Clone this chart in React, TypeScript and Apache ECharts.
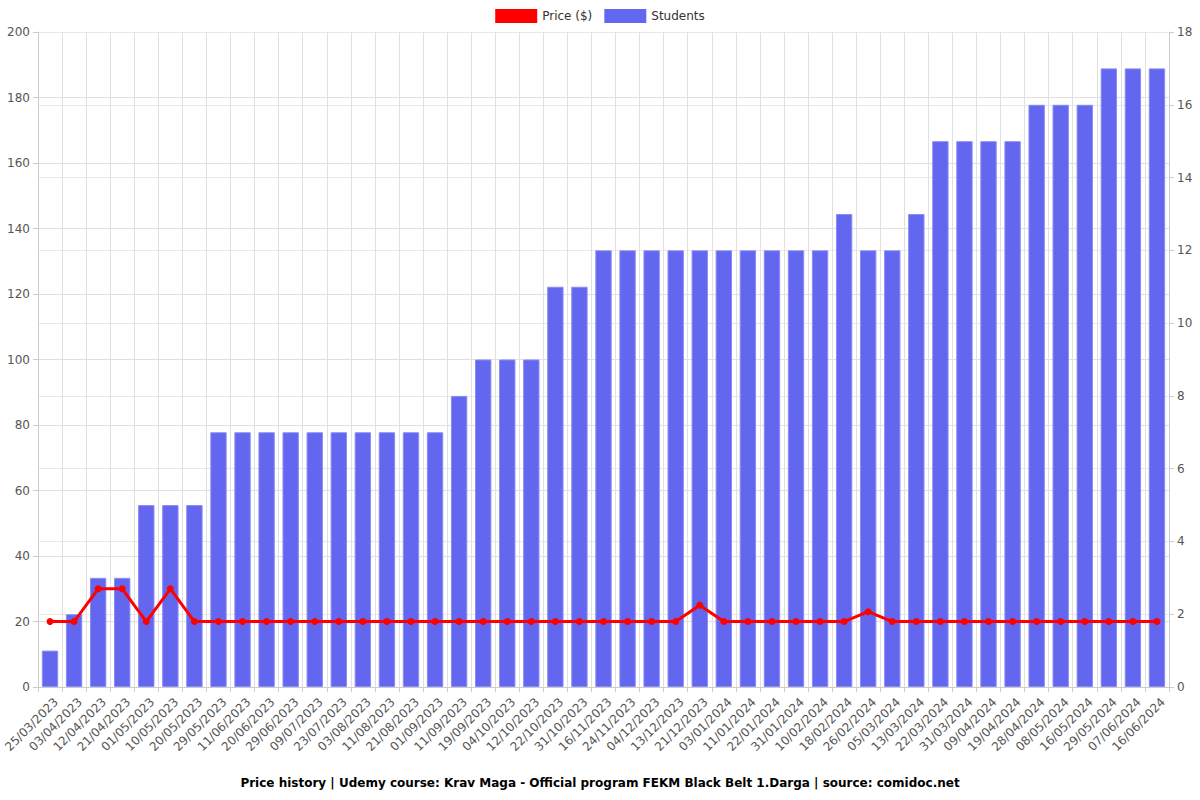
import React, { useEffect, useRef } from "react";
import * as echarts from "echarts";

const categories = [
  "25/03/2023", "03/04/2023", "12/04/2023", "21/04/2023", "01/05/2023", "10/05/2023",
  "20/05/2023", "29/05/2023", "11/06/2023", "20/06/2023", "29/06/2023", "09/07/2023",
  "23/07/2023", "03/08/2023", "11/08/2023", "21/08/2023", "01/09/2023", "11/09/2023",
  "19/09/2023", "04/10/2023", "12/10/2023", "22/10/2023", "31/10/2023", "16/11/2023",
  "24/11/2023", "04/12/2023", "13/12/2023", "21/12/2023", "03/01/2024", "11/01/2024",
  "22/01/2024", "31/01/2024", "10/02/2024", "18/02/2024", "26/02/2024", "05/03/2024",
  "13/03/2024", "22/03/2024", "31/03/2024", "09/04/2024", "19/04/2024", "28/04/2024",
  "08/05/2024", "16/05/2024", "29/05/2024", "07/06/2024", "16/06/2024",
];

const price = [
  19.99, 19.99, 29.99, 29.99, 19.99, 29.99, 19.99, 19.99, 19.99, 19.99, 19.99, 19.99,
  19.99, 19.99, 19.99, 19.99, 19.99, 19.99, 19.99, 19.99, 19.99, 19.99, 19.99, 19.99,
  19.99, 19.99, 19.99, 24.99, 19.99, 19.99, 19.99, 19.99, 19.99, 19.99, 22.99, 19.99,
  19.99, 19.99, 19.99, 19.99, 19.99, 19.99, 19.99, 19.99, 19.99, 19.99, 19.99,
];

const students = [
  1, 2, 3, 3, 5, 5, 5, 7, 7, 7, 7, 7,
  7, 7, 7, 7, 7, 8, 9, 9, 9, 11, 11, 12,
  12, 12, 12, 12, 12, 12, 12, 12, 12, 13, 12, 12,
  13, 15, 15, 15, 15, 16, 16, 16, 17, 17, 17,
];

const titleText =
  "Price history | Udemy course: Krav Maga - Official program FEKM Black Belt 1.Darga | source: comidoc.net";

export default function App() {
  const ref = useRef<HTMLDivElement>(null);
  useEffect(() => {
    if (!ref.current) return;
    const chart = echarts.init(ref.current, undefined, { renderer: "svg" });
    const font = "DejaVu Sans";
    chart.setOption({
      animation: false,
      textStyle: { fontFamily: font },
      title: {
        text: titleText,
        left: "center",
        bottom: 6,
        textStyle: { fontSize: 12, fontWeight: "bold", color: "#000", fontFamily: font },
      },
      legend: {
        top: 4,
        left: "center",
        itemWidth: 42,
        itemHeight: 14,
        itemGap: 12,
        textStyle: { fontSize: 12, color: "#333", fontFamily: font },
        data: [
          { name: "Price ($)", icon: "rect", itemStyle: { color: "#ff0000", borderWidth: 0 } },
          { name: "Students", icon: "rect", itemStyle: { color: "#6366ee", borderWidth: 0 } },
        ],
      },
      grid: {
        left: 38,
        right: 31,
        top: 32,
        bottom: 113,
        containLabel: false,
        outerBoundsMode: "none",
      },
      xAxis: {
        type: "category",
        data: categories,
        boundaryGap: true,
        axisLine: { lineStyle: { color: "#ccc" } },
        axisTick: { show: true, alignWithLabel: false, length: 5, lineStyle: { color: "#ccc" } },
        splitLine: { show: true, lineStyle: { color: "#e0e0e0" } },
        axisLabel: {
          rotate: 45,
          interval: 0,
          fontSize: 12,
          color: "#555",
          fontFamily: font,
          margin: 19,
          padding: [0, -8.5, 0, 0],
        },
      },
      yAxis: [
        {
          type: "value",
          min: 0,
          max: 200,
          interval: 20,
          position: "left",
          axisLine: { show: true, lineStyle: { color: "#ccc" } },
          axisTick: { show: true, length: 5, lineStyle: { color: "#ccc" } },
          splitLine: { show: true, lineStyle: { color: "#e0e0e0" } },
          axisLabel: { fontSize: 12, color: "#555", fontFamily: font },
        },
        {
          type: "value",
          min: 0,
          max: 18,
          interval: 2,
          position: "right",
          axisLine: { show: true, lineStyle: { color: "#ccc" } },
          axisTick: { show: true, length: 5, lineStyle: { color: "#ccc" } },
          splitLine: { show: true, lineStyle: { color: "#e8e8e8" } },
          axisLabel: { fontSize: 12, color: "#555", fontFamily: font },
        },
      ],
      series: [
        {
          name: "Price ($)",
          type: "line",
          yAxisIndex: 0,
          data: price,
          z: 5,
          symbol: "circle",
          symbolSize: 7,
          lineStyle: { color: "#ff0000", width: 3 },
          itemStyle: { color: "#ff0000" },
        },
        {
          name: "Students",
          type: "bar",
          yAxisIndex: 1,
          data: students,
          barCategoryGap: "32%",
          itemStyle: { color: "#6366ee", borderColor: "#8a8cf3", borderWidth: 1 },
        },
      ],
    });
    return () => chart.dispose();
  }, []);
  return (
    <div
      ref={ref}
      style={{ position: "fixed", left: 0, top: 0, width: 1200, height: 800, background: "#fff" }}
    />
  );
}
